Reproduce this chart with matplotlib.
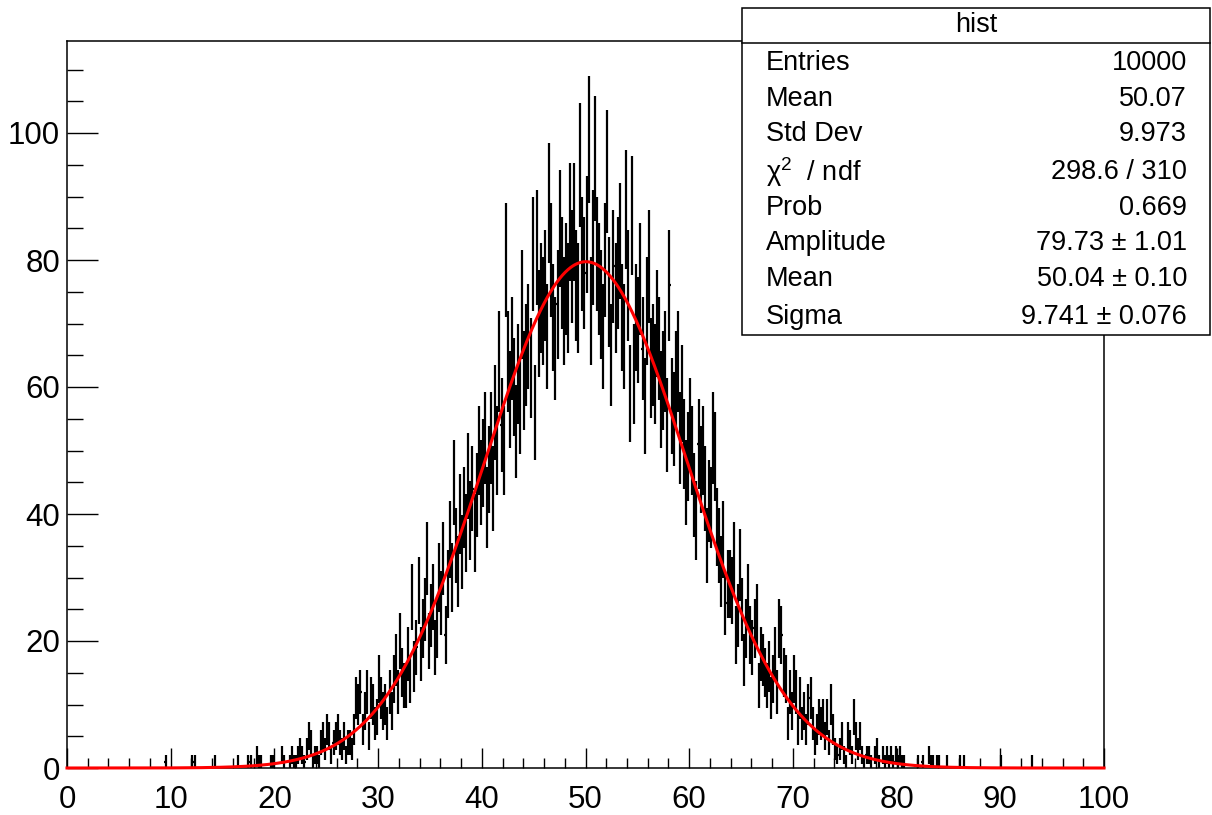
import numpy as np
import matplotlib
matplotlib.use("Agg")
import matplotlib.pyplot as plt
from matplotlib.patches import Rectangle
from matplotlib.lines import Line2D

# ---------------- data ----------------
x_min, x_max, n_bins = 0.0, 100.0, 500
# bin contents, one row per 2 units of x (10 bins of width 0.2)
bin_counts = [
    0, 0, 0, 0, 0, 0, 0, 0, 0, 0,          # 0-2
    0, 0, 0, 0, 0, 0, 0, 0, 0, 0,          # 2-4
    0, 0, 0, 0, 0, 0, 0, 0, 0, 0,          # 4-6
    0, 0, 0, 0, 0, 0, 0, 0, 0, 0,          # 6-8
    0, 0, 0, 0, 0, 0, 0, 1, 0, 0,          # 8-10
    0, 0, 0, 0, 0, 0, 0, 0, 0, 0,          # 10-12
    1, 1, 0, 0, 0, 0, 0, 0, 0, 0,          # 12-14
    0, 1, 0, 0, 0, 0, 0, 0, 0, 0,          # 14-16
    0, 0, 1, 0, 0, 0, 0, 1, 1, 0,          # 16-18
    0, 2, 1, 1, 0, 0, 0, 0, 1, 1,          # 18-20
    0, 0, 0, 2, 1, 0, 0, 1, 2, 1,          # 20-22
    1, 2, 3, 2, 1, 3, 5, 4, 1, 2,          # 22-24
    2, 1, 4, 5, 3, 6, 5, 2, 4, 5,          # 24-26
    6, 4, 3, 5, 2, 4, 4, 3, 6, 11,         # 26-28
    10, 12, 6, 9, 12, 5, 11, 10, 7, 8,     # 28-30
    14, 11, 9, 10, 7, 12, 9, 14, 17, 12,   # 30-32
    20, 15, 13, 13, 18, 14, 27, 16, 19, 28,  # 32-34
    18, 22, 25, 33, 20, 24, 27, 19, 22, 30,  # 34-36
    26, 33, 21, 29, 36, 30, 45, 35, 31, 40,  # 36-38
    34, 41, 37, 46, 39, 44, 37, 43, 50, 45,  # 38-40
    48, 52, 41, 47, 52, 44, 56, 50, 64, 54,  # 40-42
    50, 80, 64, 58, 66, 60, 53, 62, 57, 73,  # 42-44
    61, 65, 68, 63, 81, 56, 82, 70, 74, 72,  # 44-46
    76, 68, 89, 80, 71, 66, 73, 85, 78, 72,  # 46-48
    77, 74, 86, 79, 86, 76, 74, 95, 81, 78,  # 48-50
    84, 99, 72, 82, 96, 81, 77, 73, 68, 80,  # 50-52
    94, 75, 65, 79, 74, 78, 83, 71, 68, 88,  # 52-54
    76, 59, 87, 62, 71, 69, 77, 66, 57, 72,  # 54-56
    79, 63, 65, 62, 70, 66, 58, 61, 64, 54,  # 56-58
    76, 57, 55, 61, 64, 52, 59, 51, 45, 49,  # 58-60
    54, 50, 43, 39, 51, 47, 50, 44, 35, 42,  # 60-62
    41, 52, 49, 38, 35, 31, 36, 26, 29, 29,  # 62-64
    28, 33, 21, 24, 32, 25, 17, 22, 27, 21,  # 64-66
    19, 22, 24, 13, 18, 17, 15, 13, 16, 11,  # 66-68
    14, 18, 12, 22, 21, 15, 14, 7, 12, 9,    # 68-70
    14, 12, 6, 11, 7, 9, 6, 10, 11, 7,       # 70-72
    4, 6, 8, 7, 8, 5, 8, 4, 10, 6,           # 72-74
    3, 2, 3, 5, 2, 1, 5, 4, 2, 8,            # 74-76
    5, 3, 5, 2, 1, 2, 2, 1, 0, 2,            # 76-78
    3, 1, 0, 2, 1, 2, 1, 2, 1, 2,            # 78-80
    1, 2, 1, 1, 0, 0, 0, 0, 0, 0,            # 80-82
    1, 0, 1, 0, 0, 2, 1, 1, 0, 1,            # 82-84
    1, 0, 0, 0, 1, 0, 0, 0, 0, 0,            # 84-86
    1, 0, 1, 0, 0, 0, 0, 0, 0, 0,            # 86-88
    0, 0, 0, 0, 0, 0, 0, 0, 0, 0,            # 88-90
    1, 0, 0, 0, 0, 0, 0, 0, 0, 0,            # 90-92
    0, 0, 0, 0, 0, 1, 0, 0, 0, 0,            # 92-94
    0, 0, 0, 0, 0, 0, 0, 0, 0, 0,            # 94-96
    0, 0, 0, 0, 0, 0, 0, 0, 0, 0,            # 96-98
    0, 0, 0, 0, 0, 0, 0, 0, 0, 0,            # 98-100
]

# Gaussian fit parameters (from the stats box)
fit_amplitude = 79.73
fit_mean = 50.04
fit_sigma = 9.741

stat_labels = ["Entries", "Mean", "Std Dev", r"$\mathrm{\chi}^{2}$  / ndf", "Prob",
               "Amplitude", "Mean", "Sigma"]
stat_values = ["10000", "50.07", "9.973", "298.6 / 310", "0.669",
               "79.73 ± 1.01", "50.04 ± 0.10", "9.741 ± 0.076"]
stats_title = "hist"

x_ticks = [0, 10, 20, 30, 40, 50, 60, 70, 80, 90, 100]
y_ticks = [0, 20, 40, 60, 80, 100]

# ---------------- figure ----------------
plt.rcParams['font.family'] = ['Liberation Sans', 'DejaVu Sans']
plt.rcParams['mathtext.fontset'] = 'custom'
plt.rcParams['mathtext.rm'] = 'Liberation Sans'
plt.rcParams['mathtext.it'] = 'Liberation Sans'

W, H = 1212, 815
fig = plt.figure(figsize=(W / 100, H / 100), dpi=100)
fig.patch.set_facecolor('white')

L, R, T, B = 67, 1104, 41, 768
ax = fig.add_axes([L / W, (H - B) / H, (R - L) / W, (B - T) / H])

counts = np.array(bin_counts, dtype=float)
edges = np.linspace(x_min, x_max, n_bins + 1)
centers = 0.5 * (edges[:-1] + edges[1:])
half_w = 0.5 * (edges[1] - edges[0])
mask = counts > 0

ax.errorbar(centers[mask], counts[mask], yerr=np.sqrt(counts[mask]),
            xerr=half_w, fmt='none', ecolor='black', elinewidth=1.6,
            capsize=0, zorder=2)

xf = np.linspace(x_min, x_max, 1500)
yf = fit_amplitude * np.exp(-0.5 * ((xf - fit_mean) / fit_sigma) ** 2)
ax.plot(xf, yf, color='#ff0000', lw=2.2, zorder=3, clip_on=False)

ax.set_xlim(x_min, x_max)
ax.set_ylim(0, (B - T) / 6.35)

ax.set_xticks(x_ticks)
ax.set_xticks(np.arange(0, 101, 2), minor=True)
ax.set_yticks(y_ticks)
ax.set_yticks(np.arange(0, 115, 5), minor=True)
ax.set_xticklabels([str(v) for v in x_ticks])
ax.set_yticklabels([str(v) for v in y_ticks])

ax.tick_params(axis='x', which='major', direction='in', length=14.4, width=1.0,
               labelsize=22.5, pad=12, top=False)
ax.tick_params(axis='x', which='minor', direction='in', length=7.2, width=1.0,
               top=False)
ax.tick_params(axis='y', which='major', direction='in', length=22.3, width=1.0,
               labelsize=22.5, pad=5, right=False)
ax.tick_params(axis='y', which='minor', direction='in', length=11.5, width=1.0,
               right=False)
for s in ax.spines.values():
    s.set_linewidth(1.1)

# ---------------- stats box ----------------
def fx(px):
    return px / W

def fy(py):
    return (H - py) / H

bx0, bx1, by0, by1 = 742, 1210, 8, 335
fig.patches.append(Rectangle((fx(bx0), fy(by1)), fx(bx1) - fx(bx0), fy(by0) - fy(by1),
                             transform=fig.transFigure, facecolor='white',
                             edgecolor='black', lw=1.1, zorder=10))
fig.lines.append(Line2D([fx(bx0), fx(bx1)], [fy(43), fy(43)],
                        transform=fig.transFigure, color='black', lw=1.1, zorder=11))
fig.text(fx(976), fy(25), stats_title, ha='center', va='center', fontsize=19.5, zorder=12)

row_y = [63, 99, 134, 172, 208, 243, 279, 317]
for lab, val, yy in zip(stat_labels, stat_values, row_y):
    fig.text(fx(766), fy(yy), lab, ha='left', va='center', fontsize=19.5, zorder=12)
    fig.text(fx(1187), fy(yy), val, ha='right', va='center', fontsize=19.5, zorder=12)

fig.savefig("out.png", dpi=100, facecolor='white')
